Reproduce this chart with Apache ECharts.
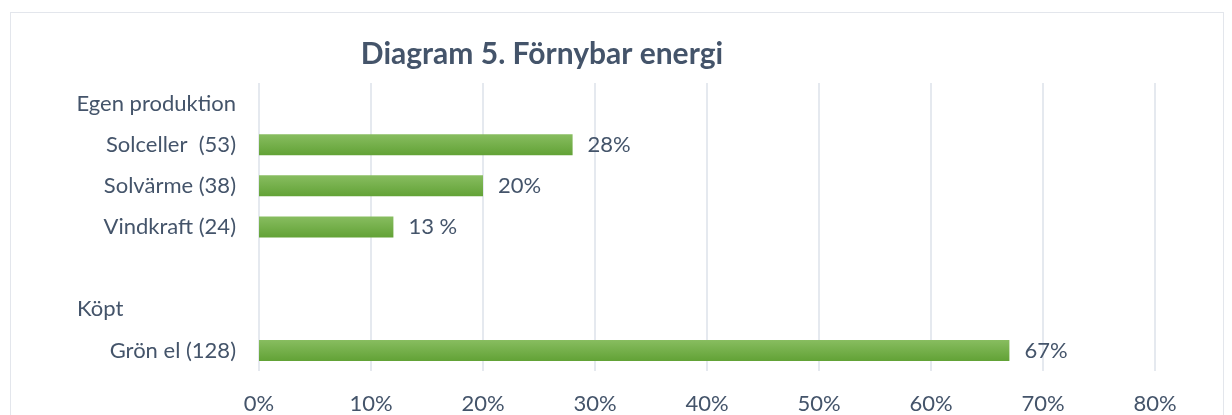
<!DOCTYPE html>
<html><head><meta charset="utf-8">
<script src="https://cdn.jsdelivr.net/npm/echarts@6/dist/echarts.min.js"></script>
<style>html,body{margin:0;padding:0;background:#fff}#c{width:1232px;height:415px;position:relative}
#frame{position:absolute;left:10px;top:12px;width:1214px;height:420px;border:1.5px solid #e3e6ec;box-sizing:border-box;pointer-events:none}</style>
</head><body><div id="c"></div><div id="frame"></div>
<script>
const categories = ['Egen produktion', 'Solceller  (53)', 'Solvärme (38)', 'Vindkraft (24)', '', 'Köpt', 'Grön el (128)'];
const values = [null, 28, 20, 12, null, null, 67];
const valueLabels = ['', '28%', '20%', '13 %', '', '', '67%'];
const tickLabels = ['0%', '10%', '20%', '30%', '40%', '50%', '60%', '70%', '80%'];

const chart = echarts.init(document.getElementById('c'), null, {renderer: 'canvas'});
const txt = '#44546a';
const font = 'Lato, "Open Sans", sans-serif';
const fs = 22;
chart.setOption({
  animation: false,
  title: {text: 'Diagram 5. Förnybar energi', left: 537, top: 34, textAlign: 'center',
    textStyle: {color: txt, fontFamily: font, fontWeight: 'bold', fontSize: 30}},
  grid: {left: 259, right: 77, top: 83, bottom: 42, containLabel: false},
  xAxis: {type: 'value', min: 0, max: 80, interval: 10,
    axisLine: {show: false}, axisTick: {show: false},
    splitLine: {lineStyle: {color: '#dde2ea', width: 1.5}},
    axisLabel: {color: txt, fontFamily: font, fontSize: fs, margin: 22,
      formatter: (v) => tickLabels[Math.round(v / 10)]}},
  yAxis: {type: 'category', data: categories, inverse: true,
    axisLine: {show: false}, axisTick: {show: false},
    axisLabel: {color: txt, fontFamily: font, fontSize: fs, margin: 23,
      formatter: (v) => v === 'Köpt' ? '{l|' + v + '}' : v,
      rich: {l: {width: 159, align: 'left', color: txt, fontFamily: font, fontSize: fs}}}},
  series: [{type: 'bar', data: values, barWidth: 21,
    itemStyle: {color: new echarts.graphic.LinearGradient(0, 0, 0, 1, [
      {offset: 0, color: '#88bd60'}, {offset: 1, color: '#62a236'}])},
    label: {show: true, position: 'right', distance: 15, color: txt, fontFamily: font, fontSize: fs,
      formatter: (p) => valueLabels[p.dataIndex]}}]
});
</script></body></html>
